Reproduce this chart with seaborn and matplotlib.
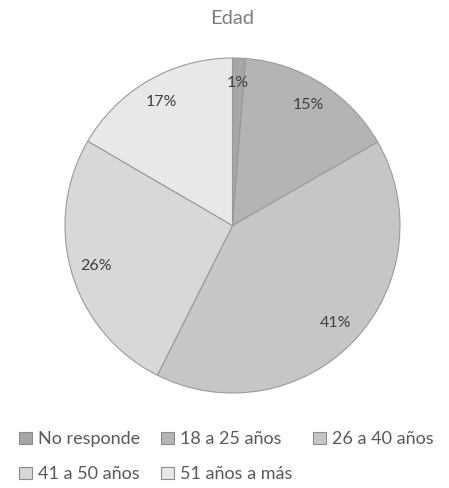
import matplotlib
matplotlib.use("Agg")
import matplotlib.pyplot as plt
import seaborn as sns
from matplotlib.patches import Patch

categories = ["No responde", "18 a 25 años", "26 a 40 años", "41 a 50 años", "51 años a más"]
values = [1.25, 15.45, 40.7, 26.0, 16.6]
colors = ["#a6a6a6", "#b4b4b4", "#c6c6c6", "#d8d8d8", "#e8e8e8"]
title = "Edad"

sns.set_theme(style="white")
plt.rcParams['font.family'] = ['Lato', 'DejaVu Sans']

W, H = 449, 488
fig = plt.figure(figsize=(W / 100, H / 100), dpi=100)
cx, cy, r = 232.5, 225.5, 167.5
ax = fig.add_axes([(cx - r) / W, (H - cy - r) / H, 2 * r / W, 2 * r / H])

wedges, texts, autotexts = ax.pie(
    values, colors=colors, startangle=90, counterclock=False,
    autopct='%1.0f%%', pctdistance=0.85,
    wedgeprops=dict(edgecolor="#9a9a9a", linewidth=0.8),
    textprops=dict(color="#404040", fontsize=11.5),
)
ax.set_xlim(-1.0, 1.0)
ax.set_ylim(-1.0, 1.0)
ax.set_aspect('equal')
ax.axis('off')

fig.text(cx / W, 1 - 19 / H, title, ha='center', va='center', fontsize=14.5, color='#7f7f7f')

order = [0, 3, 1, 4, 2]
handles = [Patch(facecolor=colors[i], edgecolor='#8c8c8c', linewidth=0.8) for i in order]
labels = [categories[i] for i in order]
leg = fig.legend(handles, labels, ncol=3, loc='upper left', bbox_to_anchor=(12 / W, 1 - 424 / H),
                 frameon=False, fontsize=13, handlelength=0.7, handleheight=0.7,
                 handletextpad=0.35, columnspacing=1.15, labelspacing=1.05, labelcolor='#595959',
                 borderaxespad=0)

fig.savefig("out.png", dpi=100, facecolor='white')
